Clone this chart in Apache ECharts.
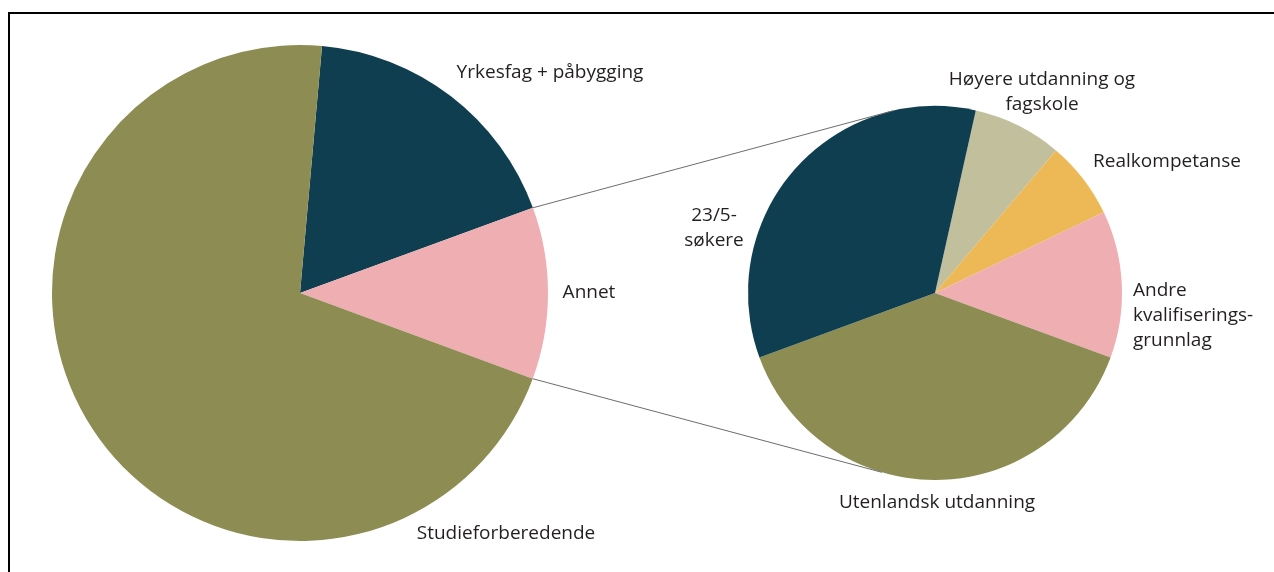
<!DOCTYPE html>
<html>
<head>
<meta charset="utf-8">
<script src="https://cdn.jsdelivr.net/npm/echarts@6/dist/echarts.min.js"></script>
<style>
html,body{margin:0;padding:0;background:#fff;}
#chart{width:1274px;height:572px;}
</style>
</head>
<body>
<div id="chart"></div>
<script>
// ---- data ----
const mainCategories = ['Yrkesfag + påbygging', 'Annet', 'Studieforberedende'];
const mainValues = [18.0, 11.2, 70.8];
const subCategories = ['Høyere utdanning og\nfagskole', 'Realkompetanse', 'Andre\nkvalifiserings-\ngrunnlag', 'Utenlandsk utdanning', '23/5-\nsøkere'];
const subValues = [7.7, 6.7, 12.7, 38.8, 34.1];

// ---- styles ----
const mainColors = ['#0F3E50', '#EEAEB2', '#8D8C52'];
const subColors = ['#C2BF9D', '#EDB956', '#EEAEB2', '#8D8C52', '#0F3E50'];
const FONT = '"Open Sans", sans-serif';
const mainCenter = [300, 293], mainR = 248, mainStart = 5.1;   // degrees clockwise from top
const subCenter = [935, 293], subR = 187, subStart = 12.6;
const mainLabelPos = [[550, 73, 'center'], [589, 293, 'center'], [506, 534, 'center']];
const subLabelPos = [[1042, 92, 'center'], [1167, 162, 'center'], [1133, 316, 'left'], [937, 503, 'center'], [714, 228, 'center']];
const connectorSubAngles = [347, 196.5];

function pt(c, r, degFromTop) {
  const a = degFromTop * Math.PI / 180;
  return [c[0] + r * Math.sin(a), c[1] - r * Math.cos(a)];
}
const mainTotal = mainValues.reduce((a, b) => a + b, 0);
const annetStart = mainStart + mainValues[0] / mainTotal * 360;
const annetEnd = annetStart + mainValues[1] / mainTotal * 360;
const pA1 = pt(mainCenter, mainR, annetStart), pA2 = pt(mainCenter, mainR, annetEnd);
const pB1 = pt(subCenter, subR, connectorSubAngles[0]), pB2 = pt(subCenter, subR, connectorSubAngles[1]);

const labelCommon = {
  show: true, position: 'outside', color: '#231F20', fontSize: 19, lineHeight: 25,
  fontFamily: FONT, formatter: '{b}'
};

const chart = echarts.init(document.getElementById('chart'), null, {renderer: 'canvas'});
chart.setOption({
  animation: false,
  backgroundColor: '#ffffff',
  graphic: [
    {type: 'rect', shape: {x: 9, y: 13, width: 1400, height: 700}, style: {fill: 'none', stroke: '#000', lineWidth: 2}, z: 0},
    {type: 'line', shape: {x1: pA1[0], y1: pA1[1], x2: pB1[0], y2: pB1[1]}, style: {stroke: '#6d6d6d', lineWidth: 1}, z: 10},
    {type: 'line', shape: {x1: pA2[0], y1: pA2[1], x2: pB2[0], y2: pB2[1]}, style: {stroke: '#6d6d6d', lineWidth: 1}, z: 10}
  ],
  series: [
    {
      type: 'pie', center: mainCenter, radius: mainR, startAngle: 90 - mainStart, clockwise: true,
      emphasis: {disabled: true}, avoidLabelOverlap: false,
      label: labelCommon, labelLine: {show: false},
      labelLayout: p => ({x: mainLabelPos[p.dataIndex][0], y: mainLabelPos[p.dataIndex][1], align: mainLabelPos[p.dataIndex][2], verticalAlign: 'middle'}),
      data: mainCategories.map((n, i) => ({name: n, value: mainValues[i], itemStyle: {color: mainColors[i]}}))
    },
    {
      type: 'pie', center: subCenter, radius: subR, startAngle: 90 - subStart, clockwise: true,
      emphasis: {disabled: true}, avoidLabelOverlap: false,
      label: labelCommon, labelLine: {show: false},
      labelLayout: p => ({x: subLabelPos[p.dataIndex][0], y: subLabelPos[p.dataIndex][1], align: subLabelPos[p.dataIndex][2], verticalAlign: 'middle'}),
      data: subCategories.map((n, i) => ({name: n, value: subValues[i], itemStyle: {color: subColors[i]}}))
    }
  ]
});
</script>
</body>
</html>
